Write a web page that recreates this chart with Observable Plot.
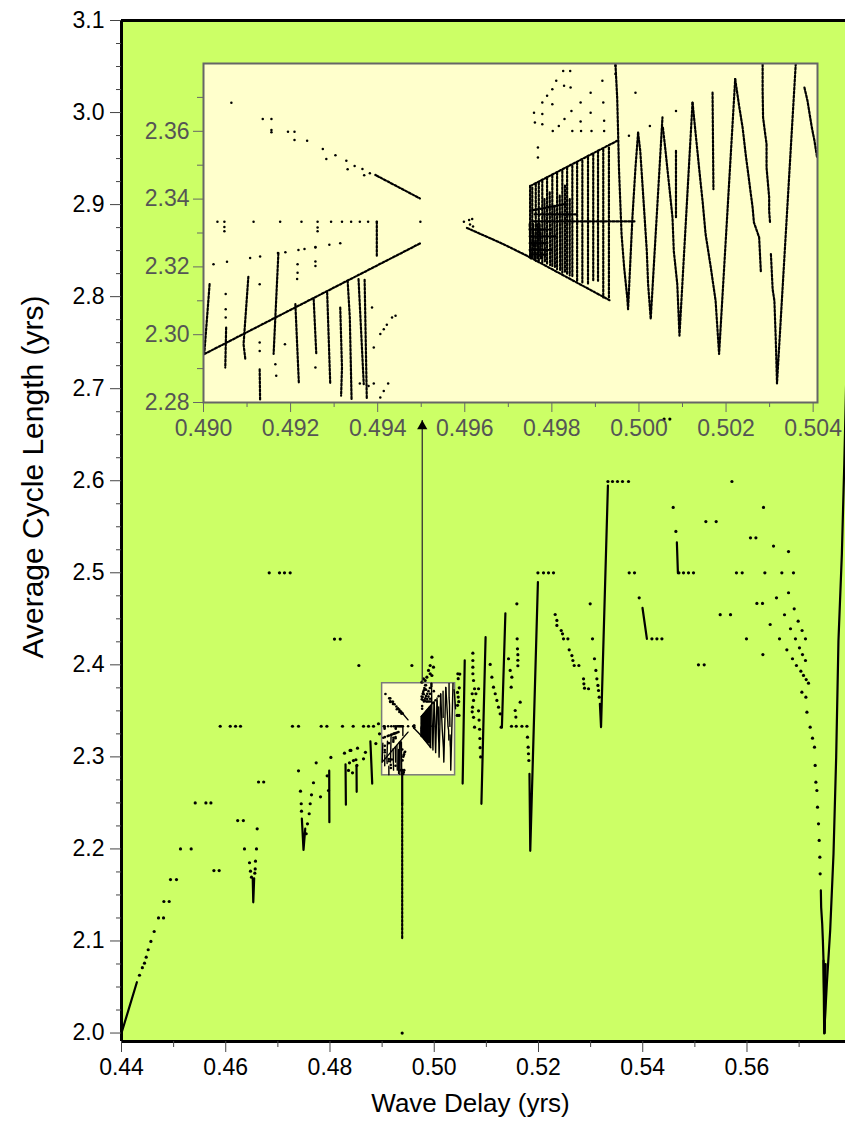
<!DOCTYPE html>
<html><head><meta charset="utf-8">
<script src="https://cdn.jsdelivr.net/npm/d3@7"></script>
<script src="https://cdn.jsdelivr.net/npm/@observablehq/plot@0.6"></script>
<style>
body{margin:0;background:#fff;}
#wrap{position:relative;width:845px;height:1127px;overflow:hidden;font-family:"Liberation Sans",Arial,sans-serif;}
#wrap svg{display:block;}
#inset{position:absolute;left:143px;top:50px;}
</style></head><body>
<div id="wrap"><div id="main"></div><div id="inset"></div></div>
<script>
// ---------- axis ticks ----------
const xMajor = [0.44,0.46,0.48,0.50,0.52,0.54,0.56];
const xMinor = [0.45,0.47,0.49,0.51,0.53,0.55,0.57];
const yMajor = [2.0,2.1,2.2,2.3,2.4,2.5,2.6,2.7,2.8,2.9,3.0,3.1];
const yMinor = [2.025,2.05,2.075,2.125,2.15,2.175,2.225,2.25,2.275,2.325,2.35,2.375,2.425,2.45,2.475,2.525,2.55,2.575,2.625,2.65,2.675,2.725,2.75,2.775,2.825,2.85,2.875,2.925,2.95,2.975,3.025,3.05,3.075];
const insetXMajor = [0.490,0.492,0.494,0.496,0.498,0.500,0.502,0.504];
const insetXMinor = [0.491,0.493,0.495,0.497,0.499,0.501,0.503];
const insetYMajor = [2.28,2.30,2.32,2.34,2.36];
const insetYMinor = [2.29,2.31,2.33,2.35,2.37];
const insetBoxX = [0.490,0.504];
const insetBoxY = [2.28,2.38];
const arrowX = [0.4977];
const arrowY = [2.38,2.6655];
const xTitle = "Wave Delay (yrs)";
const yTitle = "Average Cycle Length (yrs)";

// ---------- main chart: isolated points [wave delay, cycle length] ----------
const mainDots = [
[0.44345,2.0628],[0.44400,2.0710],[0.44441,2.0759],[0.44474,2.0824],[0.44512,2.0905],[0.44564,2.0995],[0.44627,2.1103],
[0.44710,2.1250],[0.44806,2.1250],[0.44813,2.1429],[0.44915,2.1429],[0.44940,2.1667],[0.45055,2.1667],[0.45132,2.2000],[0.45337,2.2000],
[0.45414,2.2500],[0.45619,2.2500],[0.45715,2.2500],[0.45773,2.1765],[0.45874,2.1765],
[0.45894,2.3333],[0.46086,2.3333],[0.46188,2.3333],[0.46283,2.3333],
[0.46229,2.2308],[0.46338,2.2308],[0.46359,2.2000],[0.46590,2.2000],[0.46603,2.2219],
[0.46456,2.1850],[0.46475,2.1758],[0.46494,2.1693],[0.46571,2.1867],[0.46565,2.1783],[0.46558,2.1737],
[0.46629,2.2727],[0.46728,2.2727],
[0.46834,2.5000],[0.47031,2.5000],[0.47127,2.5000],[0.47236,2.5000],
[0.47280,2.3333],[0.47396,2.3333],
[0.47434,2.2628],[0.47448,2.2491],[0.47453,2.2410],[0.47396,2.2849],
[0.47543,2.2165],[0.47568,2.2273],[0.47601,2.2382],[0.47620,2.2491],[0.47645,2.2588],[0.47683,2.2719],
[0.47735,2.2936],[0.47818,2.2566],[0.47946,2.2794],[0.47971,2.2635],[0.48017,2.2994],
[0.47831,2.3333],[0.47940,2.3333],[0.48086,2.4280],[0.48196,2.4280],[0.48240,2.3333],[0.48445,2.3333],[0.48554,2.3993],
[0.48278,2.3040],[0.48374,2.2936],[0.48401,2.3070],[0.48528,2.3095],[0.48497,2.2969],[0.48355,2.2853],[0.48432,2.2827],[0.48516,2.2907],
[0.48643,2.3333],[0.48739,2.3333],[0.48835,2.3333],[0.48643,2.2979],[0.48385,2.3070],[0.48450,2.2960],[0.48680,2.3050],
[0.48880,2.3145],[0.48930,2.3360],[0.48950,2.3250],[0.49385,2.0000],
[0.49955,2.4083],[0.49922,2.3993],[0.49986,2.3975],[0.49890,2.3939],[0.49922,2.3903],[0.49859,2.3866],[0.49826,2.3830],
[0.49955,2.3884],[0.49763,2.3812],[0.49794,2.3849],[0.49571,2.3993],
[0.50453,2.3903],[0.50460,2.3850],[0.50447,2.3700],[0.50460,2.3650],[0.50447,2.3560],[0.50440,2.3450],
[0.50490,2.3900],[0.50480,2.3750],[0.50470,2.3600],[0.50475,2.3450],
[0.50741,2.4127],[0.50741,2.4047],[0.50741,2.3975],[0.50741,2.3903],[0.50754,2.3830],[0.50773,2.3740],[0.50799,2.3686],
[0.50754,2.3613],[0.50728,2.3686],[0.50735,2.3540],[0.50728,2.3490],[0.50754,2.3430],[0.50773,2.3323],
[0.50850,2.3740],[0.50850,2.3500],[0.50860,2.3400],[0.50870,2.3300],[0.50876,2.3200],[0.50880,2.3100],[0.50890,2.3000],
[0.51073,2.4004],[0.51106,2.3866],[0.51137,2.3757],[0.51170,2.3686],[0.51202,2.3613],[0.51233,2.3540],[0.51265,2.3468],[0.51284,2.3323],
[0.51425,2.4066],[0.51457,2.3939],[0.51476,2.3757],[0.51489,2.3866],
[0.51585,2.4663],[0.51591,2.4283],[0.51597,2.4174],[0.51604,2.4110],[0.51604,2.4050],[0.51604,2.3990],
[0.51649,2.3594],[0.51553,2.3504],[0.51566,2.3432],[0.51573,2.3333],[0.51482,2.3333],[0.51682,2.3333],[0.51778,2.3333],
[0.51789,2.3214],[0.51802,2.3105],[0.51808,2.3034],[0.51815,2.2961],
[0.51989,2.5000],[0.52096,2.5000],[0.52192,2.5000],[0.52288,2.5000],
[0.52320,2.4547],[0.52353,2.4482],[0.52353,2.4428],[0.52436,2.4373],[0.52461,2.4337],[0.52480,2.4283],[0.52564,2.4283],
[0.52589,2.4163],[0.52641,2.4101],[0.52660,2.4047],[0.52685,2.3993],[0.52775,2.3993],[0.52864,2.3848],[0.52871,2.3794],
[0.52883,2.3747],[0.52960,2.3740],
[0.52992,2.4663],[0.53036,2.4283],[0.53074,2.4066],[0.53101,2.3939],[0.53120,2.3848],[0.53140,2.3776],[0.53152,2.3721],[0.53165,2.3649],
[0.53332,2.5992],[0.53420,2.5992],[0.53516,2.5992],[0.53612,2.5992],[0.53727,2.5992],
[0.53740,2.5000],[0.53842,2.5000],[0.53932,2.4728],[0.54176,2.4283],[0.54272,2.4283],[0.54368,2.4283],
[0.54410,2.6670],[0.54520,2.6670],
[0.55711,2.5992],[0.54584,2.5710],[0.56317,2.5710],[0.55211,2.5556],[0.55409,2.5556],[0.56067,2.5380],[0.56171,2.5380],
[0.54636,2.5449],[0.54694,2.5000],[0.54782,2.5000],[0.54878,2.5000],[0.54974,2.5000],[0.55798,2.5000],[0.55908,2.5000],
[0.56343,2.5000],[0.56669,2.5000],[0.56892,2.5000],[0.56509,2.5290],[0.56797,2.5231],
[0.55486,2.4545],[0.55684,2.4545],[0.56190,2.4667],[0.56298,2.4667],[0.56566,2.4728],[0.56797,2.4783],[0.56906,2.4609],
[0.56720,2.4544],[0.56445,2.4438],[0.56982,2.4474],[0.56835,2.4392],[0.57057,2.4373],
[0.55990,2.4283],[0.56624,2.4283],[0.56930,2.4283],[0.57122,2.4283],[0.56765,2.4163],[0.57007,2.4185],[0.57065,2.4112],
[0.56305,2.4112],[0.56873,2.4066],[0.57122,2.4047],[0.55069,2.4000],[0.55179,2.4000],[0.56949,2.3993],[0.57034,2.3931],
[0.57084,2.3885],[0.57136,2.3840],[0.57180,2.3801],[0.57053,2.3703],[0.57130,2.3649],[0.57150,2.3486],[0.57212,2.3323],
[0.57257,2.3203],[0.57295,2.3106],[0.57308,2.2907],[0.57322,2.2725],[0.57341,2.2635],[0.57353,2.2454],[0.57372,2.2273],
[0.57385,2.2092],[0.57398,2.1911],[0.57404,2.1730]
];

// ---------- main chart: dense runs of points ----------
const mainSolidLines = [
[[0.44000,2.0000],[0.44295,2.0552]],
[[0.46518,2.1680],[0.46528,2.1420],[0.46545,2.1680]],
[[0.47460,2.2330],[0.47492,2.1990],[0.47525,2.2220]],
[[0.47985,2.2850],[0.47988,2.2290]],
[[0.48298,2.2920],[0.48305,2.2480]],
[[0.48509,2.2900],[0.48512,2.2620]],
[[0.48775,2.3170],[0.48810,2.2710]],
[[0.49385,2.2820],[0.49385,2.2490]],
[[0.50585,2.4050],[0.50545,2.2710]],
[[0.50985,2.4300],[0.50905,2.2490]],
[[0.51365,2.4560],[0.51298,2.3320]],
[[0.51827,2.2816],[0.51842,2.1980],[0.51989,2.4900]],
[[0.53178,2.3577],[0.53200,2.3323],[0.53332,2.5948]],
[[0.53995,2.4620],[0.54080,2.4283]],
[[0.54655,2.5330],[0.54675,2.4996]],
[[0.57417,2.1549],[0.57423,2.1367],[0.57443,2.1187],[0.57456,2.1005],[0.57468,2.0788],[0.57481,1.9995],
 [0.57532,2.0535],[0.57596,2.1114],[0.57660,2.1947],[0.57711,2.2997],[0.57755,2.4265],[0.57820,2.5200],[0.57867,2.6187],[0.57920,2.7500]],
[[0.57468,2.0788],[0.57492,2.0000],[0.57508,2.0750]]
];
const mainDottedLines = [
[[0.49385,2.2490],[0.49385,2.1013]]
];

// ---------- inset (zoomed window 0.490-0.504, 2.28-2.38) ----------
const insetDots = [
[0.49064,2.3684],[0.49136,2.3636],[0.49156,2.3636],[0.49156,2.3604],[0.49156,2.3597],[0.49194,2.3599],[0.49209,2.3599],
[0.49209,2.3574],[0.49238,2.3572],[0.49274,2.3548],[0.49282,2.3518],[0.49303,2.3529],[0.49328,2.3513],[0.49331,2.3488],
[0.49347,2.3498],[0.49365,2.3489],[0.49369,2.3470],[0.49382,2.3476],[0.49395,2.3471],
[0.49032,2.3333],[0.49048,2.3333],[0.49115,2.3333],[0.49176,2.3333],[0.49225,2.3333],[0.49262,2.3333],[0.49293,2.3333],
[0.49318,2.3333],[0.49339,2.3333],[0.49359,2.3333],[0.49378,2.3333],[0.49398,2.3333],[0.49498,2.3333],
[0.49048,2.3318],[0.49048,2.3305],[0.49262,2.3316],[0.49262,2.3305],
[0.49598,2.3333],[0.49610,2.3338],[0.49617,2.3341],[0.49619,2.3319],[0.49612,2.3325],
[0.49023,2.3208],[0.49054,2.3215],[0.49107,2.3226],[0.49130,2.3231],[0.49171,2.3241],[0.49188,2.3243],[0.49218,2.3250],
[0.49232,2.3253],[0.49257,2.3259],[0.49289,2.3265],[0.49314,2.3270],
[0.49051,2.3120],[0.49051,2.3075],[0.49051,2.3051],[0.49129,2.3149],[0.49129,2.2977],[0.49129,2.2952],[0.49165,2.2913],
[0.49167,2.2879],[0.49187,2.2972],[0.49216,2.3208],[0.49216,2.3183],[0.49215,2.3164],[0.49257,2.3257],[0.49257,2.3216],
[0.49257,2.3203],[0.49257,2.2903],[0.49387,2.3080],[0.49391,2.2962],[0.49391,2.2856],[0.49379,2.2849],[0.49359,2.2856],
[0.49406,2.3002],[0.49414,2.3016],[0.49421,2.3029],[0.49433,2.3051],[0.49441,2.3056],[0.49406,2.2815],[0.49414,2.2834],[0.49424,2.2856],
[0.49759,2.3655],[0.49761,2.3626],[0.49778,2.3685],[0.49778,2.3651],[0.49778,2.3621],[0.49789,2.3705],[0.49801,2.3724],
[0.49801,2.3680],[0.49802,2.3601],[0.49810,2.3749],[0.49816,2.3616],[0.49826,2.3778],[0.49828,2.3734],[0.49829,2.3636],
[0.49842,2.3778],[0.49843,2.3729],[0.49845,2.3660],[0.49847,2.3601],[0.49866,2.3685],[0.49866,2.3629],[0.49867,2.3601],
[0.49889,2.3714],[0.49889,2.3655],[0.49891,2.3601],[0.49916,2.3749],[0.49918,2.3685],[0.49920,2.3631],[0.49920,2.3601],
[0.49992,2.3714],[0.50025,2.3616],[0.50085,2.3660],[0.49768,2.3552],[0.49768,2.3523],[0.49977,2.3587],[0.49946,2.3793],[0.49946,2.3769]
];
const insetLines = [
[[0.49398,2.3469],[0.49497,2.3402]],
[[0.49398,2.3333],[0.49398,2.3233]],
[[0.49605,2.3315],[0.49636,2.3297],[0.49663,2.3282],[0.49697,2.3262],[0.49750,2.3228]],
[[0.49002,2.2943],[0.49497,2.3269]],
[[0.49014,2.3149],[0.49002,2.2947]],
[[0.49052,2.3021],[0.49050,2.2903]],
[[0.49103,2.3171],[0.49092,2.2972],[0.49096,2.2928]],
[[0.49129,2.2898],[0.49130,2.2805]],
[[0.49172,2.3241],[0.49161,2.2943]],
[[0.49211,2.3090],[0.49219,2.2856]],
[[0.49253,2.3105],[0.49259,2.2943]],
[[0.49284,2.3124],[0.49291,2.2856]],
[[0.49314,2.3080],[0.49318,2.2903],[0.49316,2.2820]],
[[0.49331,2.3159],[0.49336,2.3051],[0.49340,2.2810]],
[[0.49356,2.3164],[0.49368,2.2854]],
[[0.49370,2.3162],[0.49375,2.2810]],
[[0.49751,2.3439],[0.49950,2.3572]],
[[0.49755,2.3367],[0.49830,2.3385]],
[[0.49755,2.3334],[0.49992,2.3334]],
[[0.49750,2.3228],[0.49935,2.3100]],
[[0.49750,2.3439],[0.49750,2.3228]],
[[0.49755,2.3434],[0.49755,2.3223]],[[0.49763,2.3444],[0.49763,2.3218]],[[0.49770,2.3449],[0.49770,2.3218]],
[[0.49778,2.3454],[0.49778,2.3213]],[[0.49789,2.3464],[0.49789,2.3208]],[[0.49801,2.3469],[0.49801,2.3198]],
[[0.49812,2.3478],[0.49812,2.3193]],[[0.49824,2.3483],[0.49824,2.3183]],[[0.49835,2.3493],[0.49835,2.3179]],
[[0.49847,2.3498],[0.49847,2.3169]],[[0.49858,2.3508],[0.49858,2.3159]],[[0.49870,2.3513],[0.49870,2.3154]],
[[0.49883,2.3523],[0.49883,2.3149]],[[0.49895,2.3533],[0.49895,2.3159]],[[0.49906,2.3542],[0.49906,2.3159]],
[[0.49918,2.3547],[0.49918,2.3110]],[[0.49931,2.3552],[0.49931,2.3110]],
[[0.49749,2.3326],[0.49752,2.3223]],[[0.49757,2.3326],[0.49760,2.3223]],[[0.49766,2.3326],[0.49768,2.3223]],[[0.49772,2.3326],[0.49775,2.3223]],
[[0.49783,2.3400],[0.49784,2.3215]],[[0.49795,2.3420],[0.49796,2.3205]],[[0.49806,2.3380],[0.49807,2.3200]],
[[0.49818,2.3410],[0.49819,2.3190]],[[0.49830,2.3440],[0.49830,2.3185]],[[0.49841,2.3400],[0.49841,2.3175]],
[[0.49749,2.3310],[0.49800,2.3310]],[[0.49749,2.3290],[0.49810,2.3290]],[[0.49749,2.3270],[0.49790,2.3270]],
[[0.49749,2.3250],[0.49800,2.3250]],[[0.49752,2.3236],[0.49785,2.3236]],[[0.49760,2.3355],[0.49860,2.3355]],
[[0.49946,2.3798],[0.49950,2.3699],[0.49952,2.3601],[0.49954,2.3493],[0.49957,2.3395],[0.49960,2.3297],[0.49966,2.3198],
 [0.49973,2.3110],[0.49975,2.3075],[0.49985,2.3346],[0.49992,2.3493],[0.49998,2.3596]],
[[0.49998,2.3596],[0.50003,2.3542],[0.50008,2.3444],[0.50013,2.3346],[0.50018,2.3247],[0.50021,2.3149],[0.50027,2.3046],[0.50054,2.3641]],
[[0.50055,2.3611],[0.50061,2.3542],[0.50069,2.3444],[0.50077,2.3346],[0.50080,2.3247],[0.50088,2.3149],[0.50093,2.2997],[0.50123,2.3685]],
[[0.50123,2.3685],[0.50138,2.3493],[0.50146,2.3395],[0.50153,2.3297],[0.50165,2.3198],[0.50176,2.3100],[0.50184,2.2943],[0.50221,2.3754]],
[[0.50221,2.3754],[0.50230,2.3675],[0.50238,2.3611],[0.50245,2.3533],[0.50253,2.3454],[0.50261,2.3375],[0.50264,2.3331],[0.50276,2.3287],[0.50280,2.3183]],
[[0.50284,2.3798],[0.50284,2.3719],[0.50285,2.3641],[0.50288,2.3611],[0.50293,2.3562],[0.50293,2.3493],[0.50299,2.3405],[0.50299,2.3365],[0.50301,2.3331]],
[[0.50303,2.3238],[0.50307,2.3134],[0.50311,2.3100],[0.50314,2.2992],[0.50317,2.2856],[0.50360,2.3798]],
[[0.50380,2.3729],[0.50387,2.3690],[0.50397,2.3611],[0.50403,2.3572],[0.50409,2.3523]],
[[0.50169,2.3714],[0.50171,2.3429]],
[[0.50085,2.3542],[0.50085,2.3346]]
];

// ---------- build tables ----------
const pts = a => a.map(([x,y]) => ({x,y}));
const rows = a => a.flatMap((line,id) => line.map(([x,y]) => ({id,x,y})));
const FONT = '"Liberation Sans", Arial, sans-serif';

const main = Plot.plot({
  width: 845, height: 1127,
  marginLeft: 121, marginRight: 0, marginTop: 20, marginBottom: 86,
  x: {domain: [0.44, 0.5789]},
  y: {domain: [1.9908, 3.1]},
  style: {background: "transparent", fontFamily: FONT, fontSize: "23px", color: "black"},
  marks: [
    Plot.frame({fill: "#CCFF66", stroke: null}),
    Plot.rect([{x1: insetBoxX[0], x2: insetBoxX[1], y1: insetBoxY[0], y2: insetBoxY[1]}],
      {x1: "x1", x2: "x2", y1: "y1", y2: "y2", fill: "#FFFFCC", stroke: "#7a7a7a", strokeWidth: 1.5}),
    Plot.line(rows(mainSolidLines), {x: "x", y: "y", z: "id", stroke: "black", strokeWidth: 2.2, clip: true}),
    Plot.line(rows(mainDottedLines), {x: "x", y: "y", z: "id", stroke: "black", strokeWidth: 2.2, strokeDasharray: "2.2,1.8", clip: true}),
    Plot.line(rows(insetLines), {x: "x", y: "y", z: "id", stroke: "black", strokeWidth: 1.4, clip: true}),
    Plot.dot(pts(insetDots), {x: "x", y: "y", r: 1.3, fill: "black", clip: true}),
    Plot.dot(pts(mainDots), {x: "x", y: "y", r: 1.6, fill: "black", clip: true}),
    Plot.ruleX([{x: arrowX[0], y1: arrowY[0], y2: arrowY[1]}], {x: "x", y1: "y1", y2: "y2", stroke: "#333", strokeWidth: 1.3}),
    Plot.dot([{x: arrowX[0], y: arrowY[1]}], {x: "x", y: "y", symbol: "triangle", r: 3.8, fill: "black", stroke: null, dy: 5.8}),
    Plot.ruleX([0.44], {stroke: "black", strokeWidth: 3}),
    Plot.ruleY([3.1], {stroke: "black", strokeWidth: 3}),
    Plot.ruleY([1.9908], {stroke: "black", strokeWidth: 3}),
    Plot.axisX(xMajor, {anchor: "bottom", tickSize: 11, tickPadding: 6, tickFormat: d3.format(".2f"), label: null, stroke: "#444", fill: "black"}),
    Plot.axisX(xMinor, {anchor: "bottom", tickSize: 6, tickFormat: () => "", label: null, stroke: "#444"}),
    Plot.axisY(yMajor, {anchor: "left", tickSize: 11, tickPadding: 6, tickFormat: d3.format(".1f"), label: null, stroke: "#444", fill: "black"}),
    Plot.axisY(yMinor, {anchor: "left", tickSize: 5, tickFormat: () => "", label: null, stroke: "#444"}),
    Plot.text([xTitle], {text: d => d, frameAnchor: "bottom", textAnchor: "middle", dy: 70, dx: -13, fontSize: 26, fill: "black"}),
    Plot.text([yTitle], {text: d => d, frameAnchor: "left", textAnchor: "middle", rotate: -90, dx: -88, dy: -54, fontSize: 30, fill: "black"})
  ]
});
document.getElementById("main").appendChild(main);

const inset = Plot.plot({
  width: 702, height: 392,
  marginLeft: 60, marginRight: 28, marginTop: 13, marginBottom: 40,
  x: {domain: [0.490, 0.5041]},
  y: {domain: [2.28, 2.38]},
  style: {background: "transparent", fontFamily: FONT, fontSize: "23px"},
  marks: [
    Plot.frame({fill: "#FFFFCC", stroke: null}),
    Plot.line(rows(insetLines), {x: "x", y: "y", z: "id", stroke: "black", strokeWidth: 2.2, strokeDasharray: "2.2,1.8", clip: true}),
    Plot.dot(pts(insetDots), {x: "x", y: "y", r: 1.25, fill: "black", clip: true}),
    Plot.frame({stroke: "#666", strokeWidth: 2}),
    Plot.axisX(insetXMajor, {anchor: "bottom", tickSize: 10, tickPadding: 7, tickFormat: d3.format(".3f"), label: null, stroke: "#666", fill: "#555"}),
    Plot.axisX(insetXMinor, {anchor: "bottom", tickSize: 5, tickFormat: () => "", label: null, stroke: "#666"}),
    Plot.axisY(insetYMajor, {anchor: "left", tickSize: 10, tickPadding: 4, tickFormat: d3.format(".2f"), label: null, stroke: "#666", fill: "#555"}),
    Plot.axisY(insetYMinor, {anchor: "left", tickSize: 6, tickFormat: () => "", label: null, stroke: "#666"})
  ]
});
document.getElementById("inset").appendChild(inset);
</script>
</body></html>
